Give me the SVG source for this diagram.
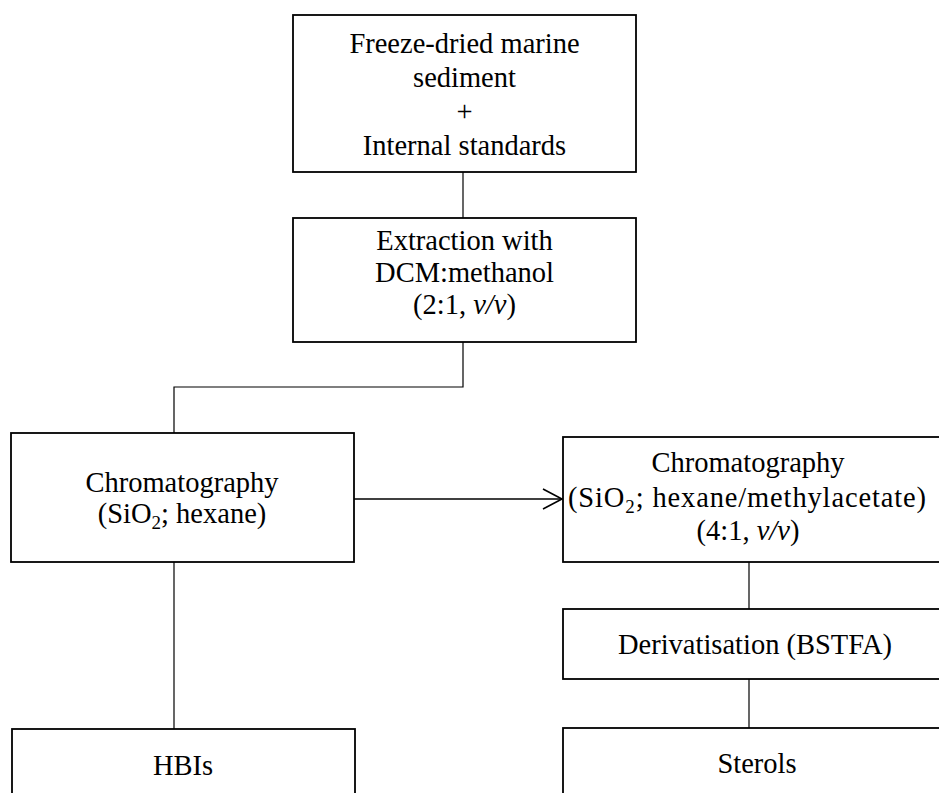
<svg xmlns="http://www.w3.org/2000/svg" width="939" height="793" viewBox="0 0 939 793">
<style>
.box{fill:#fff;stroke:#000;stroke-width:1.8}
.t{font-family:"Liberation Serif","Times New Roman",serif;font-size:28.5px;fill:#000;text-anchor:middle}
.c{fill:none;stroke:#000;stroke-width:1.2}
.a{fill:none;stroke:#000;stroke-width:1.6}
</style>
<defs>
<marker id="arr" markerWidth="24" markerHeight="24" refX="20" refY="11" orient="auto" markerUnits="userSpaceOnUse">
<path d="M1,1 L20,11 L1,21" fill="none" stroke="#000" stroke-width="1.6"/>
</marker>
</defs>
<rect width="939" height="793" fill="#fff"/>
<g id="connectors">
<line class="c" x1="463" y1="172" x2="463" y2="218"/>
<polyline class="c" points="463,342 463,387 174,387 174,433"/>
<line class="a" x1="354" y1="499" x2="562" y2="499" marker-end="url(#arr)"/>
<line class="c" x1="174" y1="562" x2="174" y2="729"/>
<line class="c" x1="749" y1="562" x2="749" y2="609"/>
<line class="c" x1="749" y1="679" x2="749" y2="728"/>
</g>
<g id="n1">
<rect class="box" x="293" y="15" width="343" height="157"/>
<text class="t" x="464.5" y="53">Freeze-dried marine</text>
<text class="t" x="464.5" y="87">sediment</text>
<text class="t" x="464.5" y="121">+</text>
<text class="t" x="464.5" y="155">Internal standards</text>
</g>
<g id="n2">
<rect class="box" x="293" y="218" width="343" height="124"/>
<text class="t" x="464.5" y="250">Extraction with</text>
<text class="t" x="464.5" y="282">DCM:methanol</text>
<text class="t" x="464.5" y="314">(2:1, <tspan font-style="italic">v/v</tspan>)</text>
</g>
<g id="n3">
<rect class="box" x="11" y="433" width="343" height="129"/>
<text class="t" x="182" y="492">Chromatography</text>
<text class="t" x="182" y="523">(SiO<tspan font-size="19" dy="6">2</tspan><tspan dy="-6">; hexane)</tspan></text>
</g>
<g id="n4">
<rect class="box" x="563" y="437" width="400" height="125"/>
<text class="t" x="748" y="472">Chromatography</text>
<text class="t" x="747" y="507" textLength="358" lengthAdjust="spacing">(SiO<tspan font-size="19" dy="6">2</tspan><tspan dy="-6">; hexane/methylacetate)</tspan></text>
<text class="t" x="748" y="540">(4:1, <tspan font-style="italic">v/v</tspan>)</text>
</g>
<g id="n5">
<rect class="box" x="563" y="609" width="400" height="70"/>
<text class="t" x="755" y="654">Derivatisation (BSTFA)</text>
</g>
<g id="n6">
<rect class="box" x="12" y="729" width="343" height="100"/>
<text class="t" x="183" y="775">HBIs</text>
</g>
<g id="n7">
<rect class="box" x="563" y="728" width="400" height="100"/>
<text class="t" x="757" y="773">Sterols</text>
</g>
</svg>
